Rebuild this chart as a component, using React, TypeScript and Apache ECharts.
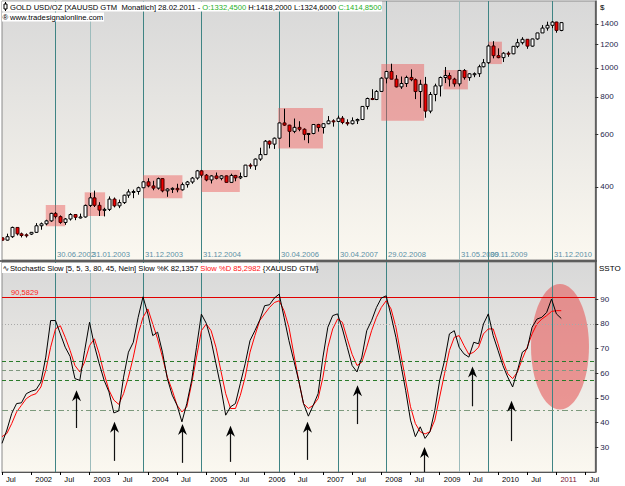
import React, { useEffect, useRef } from "react";
import * as echarts from "echarts";

// month index counted from Jan 2001 (0); first candle = Jul 2001
const FIRST_MONTH = 6;

const priceOpen = [
  270.6, 265.9, 273.0, 293.1, 279.0, 277.0,
  278.5, 282.3, 296.9, 301.4, 308.3, 326.6, 318.5, 304.6, 312.8, 323.7, 316.9, 317.7,
  347.2, 368.0, 347.5, 334.9, 336.8, 364.5, 346.0, 354.8, 375.6, 385.1, 386.4, 397.7,
  416.3, 403.3, 396.5, 426.5, 388.3, 393.8, 395.8, 391.4, 407.3, 415.7, 428.4, 452.9,
  438.0, 422.2, 435.5, 427.5, 435.7, 414.5, 437.1, 429.0, 433.3, 473.3, 470.8, 495.7,
  513.0, 568.8, 556.0, 582.0, 654.5, 643.5, 613.5, 632.6, 623.5, 599.3, 603.5, 646.7,
  632.0, 650.5, 665.0, 661.8, 678.9, 656.7, 650.5, 665.5, 672.0, 743.0, 789.5, 783.5,
  833.8, 923.3, 972.0, 916.2, 863.5, 886.0, 928.3, 912.5, 833.0, 880.8, 716.8, 814.5,
  869.8, 927.8, 942.0, 916.5, 883.6, 979.5, 927.0, 954.7, 955.3, 1007.9, 1039.6, 1182.4,
  1097.5, 1081.0, 1118.5, 1113.3, 1179.3, 1212.5, 1244.5, 1181.0, 1248.0, 1307.0, 1357.0, 1386.0,
  1421.0, 1332.45,
];
const priceHigh = [
  271.0, 279.4, 295.0, 293.3, 281.8, 280.0,
  283.0, 303.0, 304.5, 311.0, 328.0, 330.0, 321.5, 315.0, 327.0, 324.0, 326.0, 349.5,
  382.0, 389.0, 356.0, 341.0, 372.0, 369.0, 363.0, 377.0, 393.0, 392.0, 401.0, 418.0,
  428.0, 419.5, 430.0, 428.0, 396.0, 399.0, 410.0, 414.0, 419.0, 432.0, 456.0, 456.0,
  442.0, 438.0, 447.0, 438.0, 437.0, 443.0, 439.0, 447.0, 474.0, 480.0, 498.0, 541.0,
  574.0, 572.0, 585.0, 656.0, 730.0, 645.0, 677.0, 663.0, 628.0, 605.0, 649.0, 650.0,
  652.0, 690.0, 673.0, 692.0, 690.0, 673.0, 683.0, 677.0, 745.0, 795.0, 848.0, 842.0,
  930.0, 974.0, 1032.0, 945.0, 935.0, 941.0, 988.0, 921.0, 912.0, 932.0, 830.0, 885.0,
  935.0, 1006.0, 963.0, 926.0, 982.0, 990.0, 960.0, 965.0, 1024.0, 1070.0, 1195.0, 1227.0,
  1161.0, 1128.0, 1134.0, 1180.0, 1249.0, 1265.0, 1245.0, 1250.0, 1308.0, 1388.0, 1425.0, 1432.0,
  1424.0, 1418.2,
];
const priceLow = [
  264.9, 265.1, 270.5, 275.6, 271.4, 271.2,
  276.5, 281.0, 288.0, 298.0, 306.0, 314.0, 301.5, 299.0, 309.0, 310.0, 314.0, 316.0,
  343.0, 343.0, 320.0, 319.0, 332.5, 342.0, 340.0, 351.0, 368.0, 367.0, 377.0, 397.0,
  399.0, 390.0, 392.0, 384.0, 371.0, 382.0, 384.0, 389.0, 398.0, 410.0, 423.0, 430.0,
  418.0, 411.0, 424.0, 421.0, 414.0, 414.0, 418.0, 425.0, 432.0, 460.0, 456.0, 489.0,
  513.0, 538.0, 536.0, 580.0, 640.0, 543.0, 605.0, 614.0, 573.0, 560.0, 600.0, 612.0,
  603.0, 648.0, 636.0, 662.0, 648.0, 641.0, 647.0, 649.0, 669.0, 726.0, 780.0, 780.0,
  834.0, 887.0, 915.0, 860.0, 850.0, 863.0, 902.0, 786.0, 735.0, 681.0, 705.0, 773.0,
  802.0, 889.0, 866.0, 865.0, 867.0, 913.0, 905.0, 930.0, 932.0, 1003.0, 1030.0, 1075.0,
  1076.0, 1045.0, 1088.0, 1110.0, 1163.0, 1196.0, 1157.0, 1176.0, 1240.0, 1307.0, 1330.0, 1356.0,
  1309.0, 1324.6,
];
const priceClose = [
  265.9, 273.0, 293.1, 279.0, 275.5, 276.0,
  282.3, 296.9, 301.4, 308.3, 326.6, 318.5, 304.6, 312.8, 323.7, 316.9, 317.7, 347.2,
  368.0, 347.5, 334.9, 336.8, 364.5, 346.0, 354.8, 375.6, 385.1, 386.4, 397.7, 416.3,
  403.3, 396.5, 426.5, 388.3, 393.8, 395.8, 391.4, 407.3, 415.7, 428.4, 452.9, 438.0,
  422.2, 435.5, 427.5, 435.7, 414.5, 437.1, 429.0, 433.3, 473.3, 470.8, 495.7, 513.0,
  568.8, 556.0, 582.0, 654.5, 643.5, 613.5, 632.6, 623.5, 599.3, 603.5, 646.7, 632.0,
  650.5, 665.0, 661.8, 678.9, 656.7, 650.5, 665.5, 672.0, 743.0, 789.5, 783.5, 833.8,
  923.3, 972.0, 916.2, 863.5, 886.0, 928.3, 912.5, 833.0, 880.8, 716.8, 814.5, 869.8,
  927.8, 942.0, 916.5, 883.6, 979.5, 927.0, 954.7, 955.3, 1007.9, 1039.6, 1182.4, 1097.5,
  1081.0, 1118.5, 1113.3, 1179.3, 1212.5, 1244.5, 1181.0, 1248.0, 1307.0, 1357.0, 1386.0, 1421.0,
  1332.5, 1414.85,
];

// Stochastic Slow %K and %D, Jul 2001 .. Feb 2011
const slowK = [
  31.6, 37, 43.7, 47.7, 48, 51.7, 52.7, 53.3, 56.4, 66.5,
  81.3, 81.3, 75.9, 70.5, 66.8, 57.8, 57.1, 69.2, 80.6, 71.2,
  63.8, 57.1, 52.4, 43.9, 44.7, 58.4, 68.5, 72.5, 82.6, 90.9,
  83.9, 75.2, 76.6, 68.5, 57.8, 51.1, 47, 40.3, 47.7, 57.1,
  70.5, 83.9, 80.2, 73.2, 63.8, 54.4, 43, 46.4, 47.7, 55.8,
  63.8, 73.2, 77.2, 81.5, 87.3, 87.7, 90.4, 92, 82.6, 73.2,
  65.1, 57.1, 47.7, 42.6, 47, 51.7, 66.5, 78.6, 83.3, 84,
  77.9, 70.5, 63.1, 60.5, 66.5, 77.2, 81.3, 86.6, 90.4, 91.3,
  83.3, 74.5, 63.8, 53.1, 41, 34.3, 38.3, 33.6, 36.3, 45,
  57.1, 65.1, 75.9, 77.2, 70.5, 67.8, 66.5, 72.5, 71.9, 79.9,
  84, 75.2, 69.2, 63.1, 58.4, 54.4, 61.1, 68.5, 69.9, 78.6,
  81.9, 82.6, 84.6, 90, 84, 82.1357,
];
const slowD = [
  34.3, 35.6, 39.6, 44.3, 47, 49.7, 51, 51.7, 54.4, 61.1,
  70.5, 77.9, 79.2, 74.5, 69.2, 63.1, 60.5, 64.5, 71.2, 73.9,
  67.8, 59.8, 53.1, 49.1, 47.4, 51.7, 58.4, 66.5, 75.9, 82.6,
  86, 79.9, 73.9, 66.5, 58.4, 53.1, 47, 44.3, 46.4, 55.8,
  66.5, 77.2, 79.9, 77.2, 70.5, 61.1, 51.7, 45.7, 45.7, 51,
  58.4, 68.5, 75.2, 81.3, 84, 86.6, 88.6, 89.3, 85.3, 78.6,
  67.8, 57.1, 47.7, 45.7, 47, 49.7, 58.4, 70.5, 77.9, 81.9,
  80.6, 73.9, 67.6, 63.1, 64.5, 70.5, 77.2, 82.6, 86.6, 89.3,
  86, 78.6, 67.8, 57.1, 46.4, 39.6, 36.3, 35.4, 36.3, 41,
  50.4, 59.8, 69.2, 74.5, 75.2, 71.2, 67.6, 68.5, 70.5, 75.9,
  77.9, 77.9, 71.9, 65.1, 59.8, 57.8, 60.5, 65.8, 70.5, 75.9,
  79.9, 81.9, 83.3, 85, 85.3, 85.2982,
];

const priceTicks = [400, 600, 800, 1000, 1200, 1400];
const stochTicks = [30, 40, 50, 60, 70, 80, 90];
const timeTickLabels = ["Jul", "2002", "Jul", "2003", "Jul", "2004", "Jul", "2005", "Jul", "2006", "Jul", "2007", "Jul", "2008", "Jul", "2009", "Jul", "2010", "Jul", "2011", "Jul"];

// vertical date markers
const markerMonths = [17, 24, 35, 47, 63, 75, 85, 100, 106, 119];
const markerLabels = ["30.06.2002", "31.01.2003", "31.12.2003", "31.12.2004", "30.04.2006", "30.04.2007", "29.02.2008", "31.05.2009", "30.11.2009", "31.12.2010"];
const markerFaint = [false, true, false, false, false, false, false, true, false, false];

// highlighted consolidation boxes (month range, price range)
const boxStart = [15, 23, 35, 47, 62.8, 84, 96.8, 106];
const boxEnd = [19, 27.2, 43.1, 54.9, 72, 92.8, 101.8, 108.8];
const boxLow = [296, 320, 367, 385, 538, 666, 847, 1029];
const boxHigh = [348, 384, 438, 456, 734, 1029, 983, 1222];

// stochastic levels
const levelHigh = 90.5829;
const levelMid = 80;
const levelGreen = [65, 61, 57, 45];

// arrows (month, tip value, tail value)
const arrowMonths = [21.2, 29.1, 43.1, 52.9, 68.8, 78.9, 92.8, 102.7, 110.7];
const arrowTips = [53.1, 40.3, 39.4, 38.7, 40.3, 55.1, 30.1, 62.7, 48.8];
const arrowTails = [37.8, 24.5, 23.7, 24.1, 24.9, 39.4, 16, 46.6, 32.5];

// highlight ellipse on the stochastic panel
const ellipseMonth = 120.74;
const ellipseValue = 70.67;
const ellipseMonthRadius = 5.96;
const ellipseValueRadius = 25.4;

const FONT = "Liberation Sans";
const X_MIN = 6;
const X_MAX = 128;
const LOG_MIN = 2.35838;
const LOG_MAX = 3.22287;

function bg() {
  return {
    type: "linear", x: 0, y: 0, x2: 0, y2: 1,
    colorStops: [
      { offset: 0, color: "#d8d8d8" },
      { offset: 1, color: "#fbf8f0" },
    ],
  };
}

function buildOption() {
  const candleData = priceOpen.map((o, i) => [
    FIRST_MONTH + i,
    Math.log10(o),
    Math.log10(priceClose[i]),
    Math.log10(priceLow[i]),
    Math.log10(priceHigh[i]),
  ]);
  const boxData = boxStart.map((s, i) => [s, boxEnd[i], Math.log10(boxLow[i]), Math.log10(boxHigh[i])]);
  const kData = slowK.map((v, i) => [FIRST_MONTH + i, v]);
  const dData = slowD.map((v, i) => [FIRST_MONTH + i, v]);
  const timeTickValues = timeTickLabels.map((_, i) => FIRST_MONTH + 6 * i);

  const markerRender = (withLabels: boolean) => (params: any, api: any) => {
    const i = params.dataIndex;
    const cs = params.coordSys;
    const p = api.coord([api.value(0), api.value(1)]);
    const x = Math.round(p[0]) + 0.5;
    const children: any[] = [
      {
        type: "line",
        shape: { x1: x, y1: cs.y, x2: x, y2: cs.y + cs.height },
        style: { stroke: markerFaint[i] ? "#9dbcbc" : "#3f8484", lineWidth: 1 },
      },
    ];
    if (withLabels) {
      children.push({
        type: "text",
        x: x + 1.5,
        y: cs.y + cs.height - 2,
        style: {
          text: markerLabels[i],
          fill: "#5b90a6",
          font: `7.6px "${FONT}"`,
          textAlign: "left",
          textVerticalAlign: "bottom",
        },
      });
    }
    return { type: "group", children };
  };

  const greenStyles = [
    { color: "#2a7a2a", type: [4, 3] },
    { color: "#7f977f", type: [4, 3] },
    { color: "#2a7a2a", type: [4, 3] },
    { color: "#7d9a7d", type: [6, 3, 2, 3] },
  ];

  return {
    animation: false,
    grid: [
      { left: 2, top: 1, width: 593.3, height: 259, show: true, backgroundColor: bg(), borderColor: "#8a8a8a", borderWidth: 1 },
      { left: 2, top: 262, width: 593.3, height: 210, show: true, backgroundColor: bg(), borderColor: "#8a8a8a", borderWidth: 1 },
    ],
    xAxis: [
      {
        type: "value", gridIndex: 0, min: X_MIN, max: X_MAX,
        axisLine: { show: false }, axisTick: { show: false }, axisLabel: { show: false }, splitLine: { show: false },
      },
      {
        type: "value", gridIndex: 1, min: X_MIN, max: X_MAX,
        axisLine: { show: true, lineStyle: { color: "#555", width: 1 } },
        axisTick: { show: true, customValues: timeTickValues, length: 3, lineStyle: { color: "#000" } },
        axisLabel: {
          show: true,
          customValues: timeTickValues,
          formatter: (v: number) => timeTickLabels[Math.round((Number(v) - FIRST_MONTH) / 6)] ?? "",
          color: (v: any) => (Math.round(Number(v)) === 120 ? "#7a1030" : "#000"),
          fontFamily: FONT,
          fontSize: 7.6,
          align: "left",
          padding: [0, 0, 0, 4],
          margin: 3,
        },
        splitLine: { show: false },
      },
    ],
    yAxis: [
      {
        type: "value", gridIndex: 0, position: "right", min: LOG_MIN, max: LOG_MAX,
        axisLine: { show: true, lineStyle: { color: "#4a4a4a", width: 1.5 } },
        axisTick: { show: true, customValues: priceTicks.map((p) => Math.log10(p)), length: 3, lineStyle: { color: "#333" } },
        axisLabel: {
          show: true,
          customValues: priceTicks.map((p) => Math.log10(p)),
          formatter: (v: number) => String(Math.round(Math.pow(10, Number(v)))),
          color: "#1d1d4a",
          fontFamily: FONT,
          fontSize: 8,
          margin: 5,
        },
        splitLine: { show: false },
      },
      {
        type: "value", gridIndex: 1, position: "right", min: 20, max: 105,
        axisLine: { show: true, lineStyle: { color: "#4a4a4a", width: 1.5 } },
        axisTick: { show: true, customValues: stochTicks, length: 3, lineStyle: { color: "#333" } },
        axisLabel: {
          show: true,
          customValues: stochTicks,
          formatter: (v: number) => String(Math.round(Number(v))),
          color: "#1d1d4a",
          fontFamily: FONT,
          fontSize: 8,
          margin: 5,
        },
        splitLine: { show: false },
      },
    ],
    series: [
      {
        type: "custom", name: "markersTop", xAxisIndex: 0, yAxisIndex: 0, z: 1, clip: true,
        data: markerMonths.map((m) => [m, LOG_MIN]),
        encode: { x: 0, y: 1 },
        renderItem: markerRender(true),
        silent: true,
      },
      {
        type: "custom", name: "boxes", xAxisIndex: 0, yAxisIndex: 0, z: 2, clip: true,
        data: boxData,
        encode: { x: [0, 1], y: [2, 3] },
        renderItem: (params: any, api: any) => {
          const p1 = api.coord([api.value(0), api.value(3)]);
          const p2 = api.coord([api.value(1), api.value(2)]);
          return {
            type: "rect",
            shape: { x: p1[0], y: p1[1], width: p2[0] - p1[0], height: p2[1] - p1[1] },
            style: { fill: "rgba(236, 84, 84, 0.45)" },
          };
        },
        silent: true,
      },
      {
        type: "custom", name: "GOLD", xAxisIndex: 0, yAxisIndex: 0, z: 3, clip: true,
        data: candleData,
        encode: { x: 0, y: [1, 2, 3, 4] },
        renderItem: (params: any, api: any) => {
          const t = api.value(0);
          const o = api.value(1), c = api.value(2), l = api.value(3), h = api.value(4);
          const pO = api.coord([t, o]);
          const pC = api.coord([t, c]);
          const pL = api.coord([t, l]);
          const pH = api.coord([t, h]);
          const x = Math.round(pO[0]) + 0.5;
          const up = c >= o;
          const top = Math.min(pO[1], pC[1]);
          const bot = Math.max(pO[1], pC[1]);
          return {
            type: "group",
            children: [
              { type: "line", shape: { x1: x, y1: pH[1], x2: x, y2: pL[1] }, style: { stroke: "#000", lineWidth: 1 } },
              {
                type: "rect",
                shape: { x: x - 1.5, y: top, width: 3, height: Math.max(bot - top, 1) },
                style: { fill: up ? "#ffffff" : "#ee0000", stroke: up ? "#000" : "#400000", lineWidth: 1 },
              },
            ],
          };
        },
        silent: true,
      },
      {
        type: "custom", name: "ellipse", xAxisIndex: 1, yAxisIndex: 1, z: 1, clip: true,
        data: [[ellipseMonth, ellipseValue, ellipseMonthRadius, ellipseValueRadius]],
        encode: { x: 0, y: 1 },
        renderItem: (params: any, api: any) => {
          const c = api.coord([api.value(0), api.value(1)]);
          const s = api.size([api.value(2), api.value(3)]);
          return {
            type: "ellipse",
            shape: { cx: c[0], cy: c[1], rx: s[0], ry: s[1] },
            style: { fill: "rgba(230, 90, 90, 0.6)" },
          };
        },
        silent: true,
      },
      {
        type: "custom", name: "markersBottom", xAxisIndex: 1, yAxisIndex: 1, z: 2, clip: true,
        data: markerMonths.map((m) => [m, 20]),
        encode: { x: 0, y: 1 },
        renderItem: markerRender(false),
        silent: true,
      },
      {
        type: "line", name: "Slow %D", xAxisIndex: 1, yAxisIndex: 1, z: 4,
        data: dData, showSymbol: false, symbol: "none",
        lineStyle: { color: "#ff0000", width: 1 },
        markLine: {
          silent: true, symbol: ["none", "none"], animation: false,
          data: [
            {
              yAxis: levelHigh,
              lineStyle: { color: "#e00000", width: 1, type: "solid" },
              label: {
                show: true, position: "insideStartTop", formatter: "90,5829",
                color: "#ff2020", fontFamily: FONT, fontSize: 7.6, distance: [9, 1],
              },
            },
            { yAxis: levelMid, lineStyle: { color: "#a8a8a8", width: 1, type: [1, 2] }, label: { show: false } },
            ...levelGreen.map((lv, i) => ({
              yAxis: lv,
              lineStyle: { color: greenStyles[i].color, width: 1, type: greenStyles[i].type },
              label: { show: false },
            })),
          ],
        },
      },
      {
        type: "line", name: "Slow %K", xAxisIndex: 1, yAxisIndex: 1, z: 5,
        data: kData, showSymbol: false, symbol: "none",
        lineStyle: { color: "#000000", width: 1 },
      },
      {
        type: "custom", name: "arrows", xAxisIndex: 1, yAxisIndex: 1, z: 6, clip: true,
        data: arrowMonths.map((m, i) => [m, arrowTips[i], arrowTails[i]]),
        encode: { x: 0, y: [1, 2] },
        renderItem: (params: any, api: any) => {
          const t = api.value(0);
          const pTip = api.coord([t, api.value(1)]);
          const pTail = api.coord([t, api.value(2)]);
          const x = Math.round(pTip[0]) + 0.5;
          const yt = pTip[1];
          return {
            type: "group",
            children: [
              { type: "line", shape: { x1: x, y1: yt + 6, x2: x, y2: pTail[1] }, style: { stroke: "#111", lineWidth: 1.2 } },
              {
                type: "polygon",
                shape: { points: [[x, yt], [x + 4.5, yt + 11], [x, yt + 7.5], [x - 4.5, yt + 11]] },
                style: { fill: "#000" },
              },
            ],
          };
        },
        silent: true,
      },
    ],
    graphic: [
      { type: "line", z: 99, shape: { x1: 0, y1: 261, x2: 597, y2: 261 }, style: { stroke: "#3a3a3a", lineWidth: 1.5 } },
      { type: "rect", z: 100, shape: { x: 2, y: 1.5, width: 380, height: 10 }, style: { fill: "#ffffff" } },
      { type: "line", z: 101, shape: { x1: 5.5, y1: 2, x2: 5.5, y2: 11 }, style: { stroke: "#000", lineWidth: 1 } },
      { type: "rect", z: 101, shape: { x: 4, y: 4, width: 3, height: 5 }, style: { fill: "#fff", stroke: "#000", lineWidth: 1 } },
      {
        type: "text", z: 101, x: 10, y: 7,
        style: {
          text: "{b|GOLD USD/OZ [XAUUSD GTM  Monatlich] 28.02.2011 - }{g|O:1332,4500}{b| H:1418,2000 L:1324,6000 }{g|C:1414,8500}",
          font: `7.6px "${FONT}"`,
          textVerticalAlign: "middle",
          rich: {
            b: { fill: "#000", font: `7.6px "${FONT}"` },
            g: { fill: "#1fb01f", font: `7.6px "${FONT}"` },
          },
        },
      },
      { type: "rect", z: 100, shape: { x: 2, y: 12.5, width: 102, height: 9 }, style: { fill: "#ffffff" } },
      {
        type: "text", z: 101, x: 2.5, y: 17,
        style: { text: "®", fill: "#000", font: `7.7px "${FONT}"`, textVerticalAlign: "middle" },
      },
      {
        type: "text", z: 101, x: 10, y: 17,
        style: { text: "www.tradesignalonline.com", fill: "#000", font: `7.7px "${FONT}"`, textVerticalAlign: "middle" },
      },
      { type: "text", z: 101, x: 600, y: 7, style: { text: "$", fill: "#000", font: `8px "${FONT}"`, textVerticalAlign: "middle" } },
      { type: "rect", z: 100, shape: { x: 2, y: 263, width: 314, height: 10 }, style: { fill: "#ffffff" } },
      {
        type: "text", z: 101, x: 2.5, y: 268,
        style: { text: "∿", fill: "#000", font: `8px "DejaVu Sans"`, textVerticalAlign: "middle" },
      },
      {
        type: "text", z: 101, x: 10, y: 268,
        style: {
          text: "{b|Stochastic Slow [5, 5, 3, 80, 45, Nein] Slow %K 82,1357 }{r|Slow %D 85,2982}{b| {XAUUSD GTM}}",
          font: `7.6px "${FONT}"`,
          textVerticalAlign: "middle",
          rich: {
            b: { fill: "#000", font: `7.6px "${FONT}"` },
            r: { fill: "#ff1010", font: `7.6px "${FONT}"` },
          },
        },
      },
      { type: "text", z: 101, x: 599, y: 268, style: { text: "SSTO", fill: "#000", font: `8px "${FONT}"`, textVerticalAlign: "middle" } },
    ],
  };
}

export default function App() {
  const ref = useRef<HTMLDivElement>(null);
  useEffect(() => {
    if (!ref.current) return;
    const chart = echarts.init(ref.current, null, { renderer: "svg" });
    chart.setOption(buildOption() as any);
    return () => chart.dispose();
  }, []);
  return (
    <div
      ref={ref}
      style={{ position: "fixed", left: 0, top: 0, width: 625, height: 486, background: "#ffffff" }}
    />
  );
}
